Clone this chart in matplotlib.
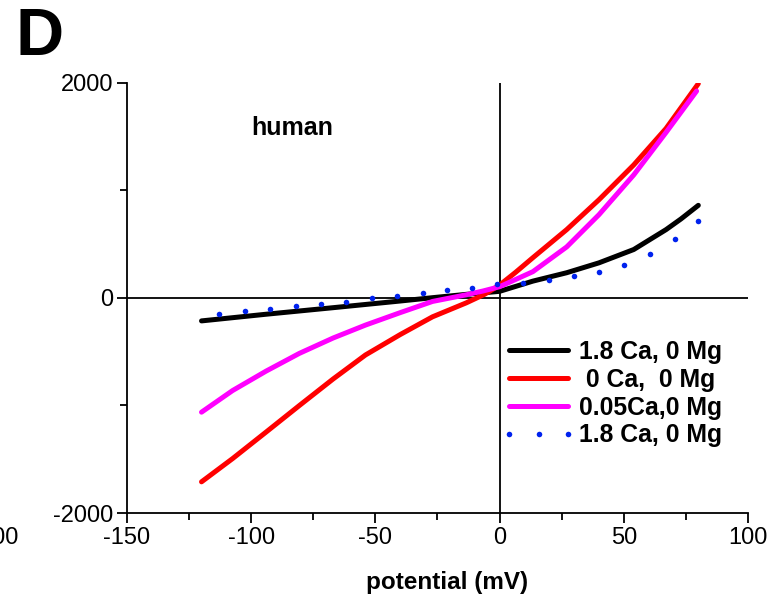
import matplotlib
matplotlib.use("Agg")
import matplotlib.pyplot as plt
from matplotlib.ticker import MultipleLocator

plt.rcParams['font.family'] = ['Liberation Sans', 'DejaVu Sans']
plt.rcParams['axes.unicode_minus'] = False

# I-V curves, human channel, currents in pA vs potential in mV
v_ca18 = [-120, -94, -67, -40, -27, -13.4, 0, 13.4, 27, 40, 54, 67, 73, 80]
i_ca18 = [-213, -151, -90, -28, 3, 34, 62, 157, 235, 327, 451, 636, 735, 862]

v_ca0 = [-120, -107.5, -94, -80.6, -67, -54, -40, -27, -13.4, -6, 0, 6.5,
         13.4, 27, 40, 54, 67, 80]
i_ca0 = [-1710, -1494, -1247, -1000, -753, -530, -340, -175, -45, 35, 120, 240,
         375, 636, 914, 1238, 1577, 1994]

v_ca005 = [-120, -107.5, -94, -80.6, -67, -54, -40, -27, -13.4, -6.7, 0,
           13.4, 27, 40, 54, 67, 79.3]
i_ca005 = [-1062, -861, -680, -515, -372, -252, -136, -32, 30, 65, 105,
           245, 475, 775, 1145, 1540, 1925]

v_dots = [-113, -102.5, -92.5, -82, -72, -62, -51.5, -41.5, -31, -21, -11, -1,
          9.5, 20, 30, 40, 50, 60.5, 70.5, 80]
i_dots = [-145, -120, -99, -71, -53, -37, -3, 21, 49, 74, 95, 127,
          142, 167, 204, 241, 306, 407, 549, 719]

fig = plt.figure(figsize=(7.77, 5.97), dpi=100)
ax = fig.add_axes([127 / 777, 1 - 513 / 597, 621 / 777, 430 / 597])

lw = 3.6
ax.plot(v_ca18, i_ca18, color='black', lw=lw, solid_capstyle='round', label='1.8 Ca, 0 Mg')
ax.plot(v_ca0, i_ca0, color='#ff0000', lw=lw, solid_capstyle='round', label=' 0 Ca,  0 Mg')
ax.plot(v_ca005, i_ca005, color='#ff00ff', lw=lw, solid_capstyle='round', label='0.05Ca,0 Mg')
ax.plot(v_dots, i_dots, ls='none', marker='o', ms=4, color='#0022ee',
        markeredgewidth=0, label='1.8 Ca, 0 Mg')

ax.axhline(0, color='black', lw=1.3, zorder=1)
ax.axvline(0, color='black', lw=1.3, zorder=1)

ax.set_xlim(-150, 100)
ax.set_ylim(-2000, 2000)
ax.xaxis.set_major_locator(MultipleLocator(50))
ax.xaxis.set_minor_locator(MultipleLocator(25))
ax.yaxis.set_major_locator(MultipleLocator(2000))
ax.yaxis.set_minor_locator(MultipleLocator(1000))

for side in ('top', 'right'):
    ax.spines[side].set_visible(False)
for side in ('left', 'bottom'):
    ax.spines[side].set_linewidth(1.3)

ax.tick_params(which='major', direction='out', length=7, width=1.3, labelsize=17, pad=3)
ax.tick_params(which='minor', direction='out', length=5, width=1.3)

ax.set_xlabel('potential (mV)', fontsize=17.5, fontweight='bold')
ax.xaxis.set_label_coords(0.515, -0.135)

ax.text(-100, 1580, 'human', fontsize=18, fontweight='bold', ha='left', va='center')

leg = ax.legend(loc='lower right', bbox_to_anchor=(0.975, 0.13), frameon=False,
                fontsize=17.8, handlelength=3.0, handletextpad=0.15, labelspacing=0.15,
                borderaxespad=0, numpoints=3)
for t in leg.get_texts():
    t.set_fontweight('bold')

fig.text(15 / 777, 1 - 55 / 597, 'D', fontsize=48, fontweight='bold', ha='left', va='baseline')
fig.text(19 / 777, 1 - 544 / 597, '100', fontsize=17, ha='right', va='baseline')

fig.savefig('out.png', dpi=100)
